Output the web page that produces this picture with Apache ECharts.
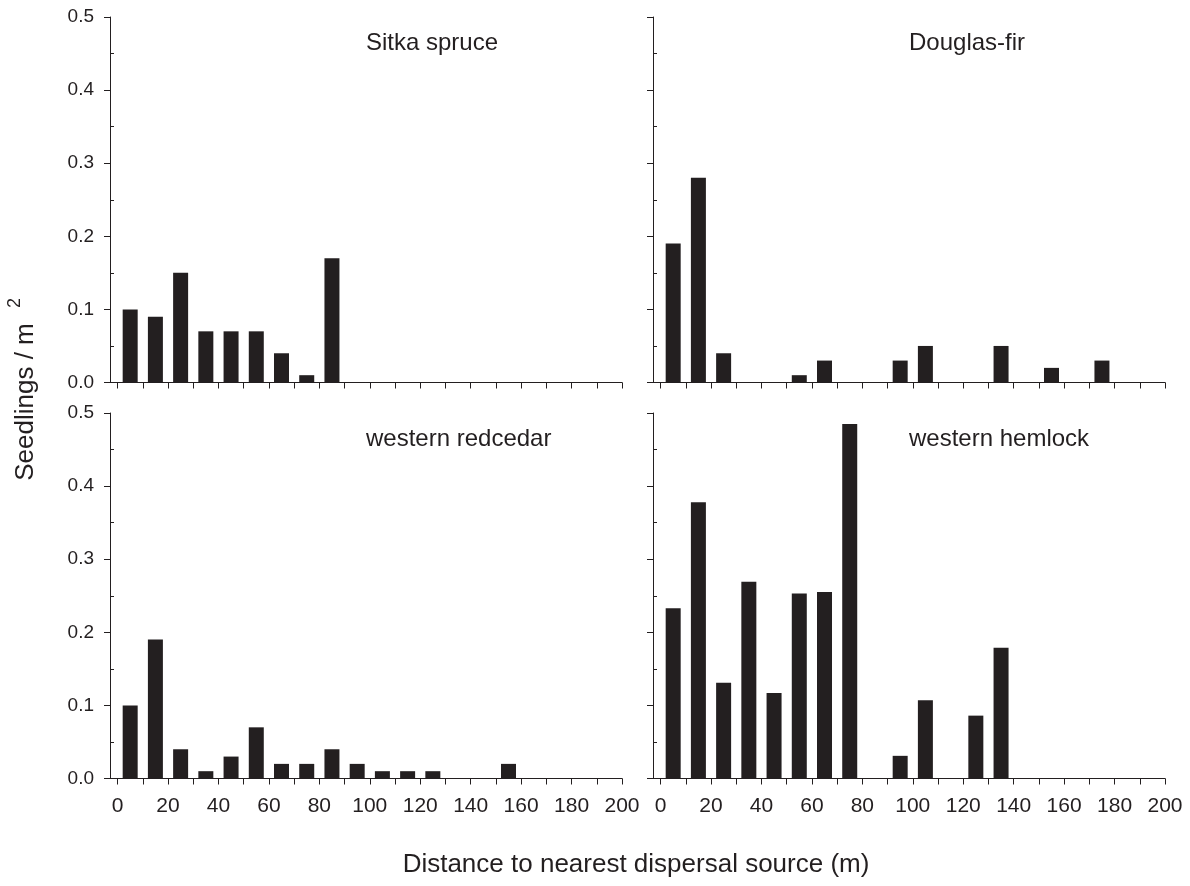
<!DOCTYPE html>
<html>
<head>
<meta charset="utf-8">
<script src="https://cdn.jsdelivr.net/npm/echarts@6/dist/echarts.min.js"></script>
<style>
  html, body { margin: 0; padding: 0; background: #fff; }
  #chart { width: 1190px; height: 886px; }
</style>
</head>
<body>
<div id="chart"></div>
<script>
// bin midpoints (m)
const distance = [5, 15, 25, 35, 45, 55, 65, 75, 85, 95, 105, 115, 125, 135, 145, 155, 165, 175, 185, 195];

// seedlings / m2 per species
const sitkaSpruce = [0.10, 0.09, 0.15, 0.07, 0.07, 0.07, 0.04, 0.01, 0.17, 0, 0, 0, 0, 0, 0, 0, 0, 0, 0, 0];
const douglasFir = [0.19, 0.28, 0.04, 0, 0, 0.01, 0.03, 0, 0, 0.03, 0.05, 0, 0, 0.05, 0, 0.02, 0, 0.03, 0, 0];
const westernRedcedar = [0.10, 0.19, 0.04, 0.01, 0.03, 0.07, 0.02, 0.02, 0.04, 0.02, 0.01, 0.01, 0.01, 0, 0, 0.02, 0, 0, 0, 0];
const westernHemlock = [0.233, 0.378, 0.131, 0.269, 0.117, 0.253, 0.255, 0.485, 0, 0.031, 0.107, 0, 0.086, 0.179, 0, 0, 0, 0, 0, 0];

// tick values
const xTicks = [0, 10, 20, 30, 40, 50, 60, 70, 80, 90, 100, 110, 120, 130, 140, 150, 160, 170, 180, 190, 200];
const xLabels = [0, 20, 40, 60, 80, 100, 120, 140, 160, 180, 200];
const yMinorTicks = [0.05, 0.15, 0.25, 0.35, 0.45];

const FONT = "'Liberation Sans', Arial, Helvetica, sans-serif";
const INK = '#231f20';

const panels = [
  { name: 'Sitka spruce', data: sitkaSpruce, left: 110, top: 17, xLab: false, yLab: true, tx: 366, ty: 45 },
  { name: 'Douglas-fir', data: douglasFir, left: 653, top: 17, xLab: false, yLab: false, tx: 909, ty: 45 },
  { name: 'western redcedar', data: westernRedcedar, left: 110, top: 413, xLab: true, yLab: true, tx: 366, ty: 441 },
  { name: 'western hemlock', data: westernHemlock, left: 653, top: 413, xLab: true, yLab: false, tx: 909, ty: 441 }
];

const grid = [], xAxis = [], yAxis = [], series = [], graphic = [];

panels.forEach((p, i) => {
  grid.push({ left: p.left, top: p.top, width: 512, height: 365.5 });
  xAxis.push({
    type: 'value', gridIndex: i, min: -3, max: 200,
    splitLine: { show: false },
    axisLine: { onZero: false, lineStyle: { color: INK, width: 1 } },
    axisTick: { show: true, length: 6, customValues: xTicks, lineStyle: { color: INK } },
    axisLabel: {
      show: p.xLab, customValues: xLabels, margin: 17,
      color: INK, fontSize: 21, fontFamily: FONT
    }
  });
  // main y axis: major ticks outside
  yAxis.push({
    type: 'value', gridIndex: i, min: 0, max: 0.5, interval: 0.1,
    splitLine: { show: false },
    axisLine: { show: true, onZero: false, lineStyle: { color: INK, width: 1 } },
    axisTick: { show: true, length: 6, lineStyle: { color: INK } },
    axisLabel: {
      show: p.yLab, margin: 16, color: INK, fontSize: 19, fontFamily: FONT,
      formatter: v => v.toFixed(1)
    }
  });
  // overlay y axis: minor ticks inside
  yAxis.push({
    type: 'value', gridIndex: i, min: 0, max: 0.5, position: 'left',
    splitLine: { show: false },
    axisLine: { show: false, onZero: false },
    axisTick: { show: true, inside: true, length: 4, customValues: yMinorTicks, lineStyle: { color: INK } },
    axisLabel: { show: false }
  });
  series.push({
    name: p.name, type: 'bar', xAxisIndex: i, yAxisIndex: i * 2,
    barWidth: 15,
    itemStyle: { color: INK },
    data: distance.map((d, k) => [d, p.data[k]])
  });
  graphic.push({
    type: 'text', left: p.tx, top: p.ty - 14,
    style: { text: p.name, fill: INK, font: '24px ' + FONT }
  });
});

// y axis title
graphic.push({
  type: 'text', x: 26, y: 402, rotation: Math.PI / 2,
  style: { text: 'Seedlings / m', fill: INK, font: '26px ' + FONT, align: 'center', verticalAlign: 'middle' }
});
graphic.push({
  type: 'text', x: 15, y: 303, rotation: Math.PI / 2,
  style: { text: '2', fill: INK, font: '18px ' + FONT, align: 'center', verticalAlign: 'middle' }
});
// x axis title
graphic.push({
  type: 'text', x: 636, y: 865,
  style: { text: 'Distance to nearest dispersal source (m)', fill: INK, font: '26px ' + FONT, align: 'center', verticalAlign: 'middle' }
});

const chart = echarts.init(document.getElementById('chart'));
chart.setOption({
  animation: false,
  backgroundColor: '#fff',
  grid, xAxis, yAxis, series, graphic
});
</script>
</body>
</html>
